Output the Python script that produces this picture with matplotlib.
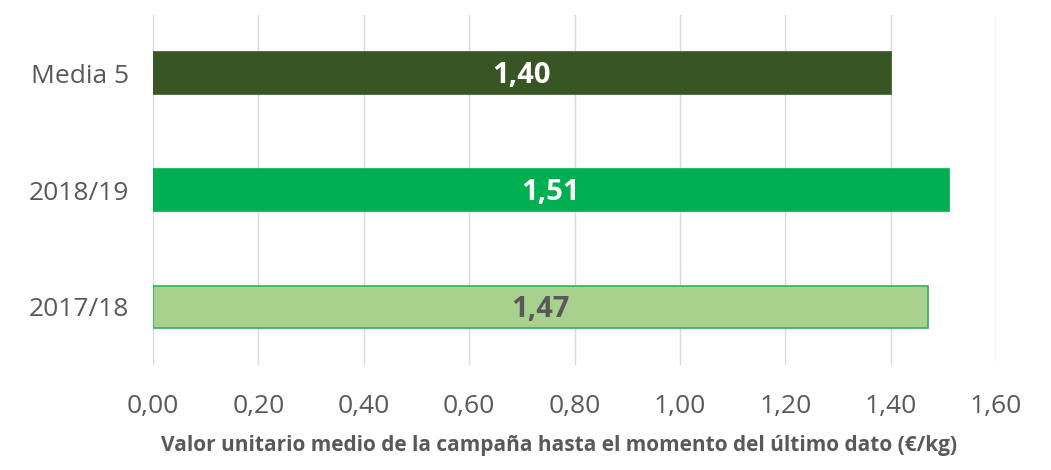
import matplotlib.pyplot as plt
from matplotlib.ticker import FuncFormatter

categories = ["2017/18", "2018/19", "Media 5"]
values = [1.47, 1.51, 1.40]
bar_colors = ["#A9D18E", "#00B050", "#375623"]
edge_colors = ["#2EB35A", "#00B050", "#375623"]
label_colors = ["#595959", "white", "white"]
xticks = [0.0, 0.2, 0.4, 0.6, 0.8, 1.0, 1.2, 1.4, 1.6]
xlabel = "Valor unitario medio de la campaña hasta el momento del último dato (€/kg)"

plt.rcParams["font.family"] = ["Open Sans", "DejaVu Sans"]

fig = plt.figure(figsize=(10.51, 4.70), dpi=100)
ax = fig.add_axes([0.1456, 0.2234, 0.8021, 0.7446])

ypos = list(range(len(categories)))
bars = ax.barh(ypos, values, height=0.36, color=bar_colors,
               edgecolor=edge_colors, linewidth=1.2, zorder=3)

for b, v, c in zip(bars, values, label_colors):
    ax.text(v / 2, b.get_y() + b.get_height() / 2 - 0.02, f"{v:.2f}".replace(".", ","),
            ha="center", va="center", color=c, fontsize=21, fontweight="bold", zorder=4)

ax.set_xlim(0, 1.6)
ax.set_ylim(-0.5, 2.5)
ax.set_xticks(xticks)
ax.xaxis.set_major_formatter(FuncFormatter(lambda x, p: f"{x:.2f}".replace(".", ",")))
ax.set_yticks(ypos)
ax.set_yticklabels(categories)
ax.tick_params(axis="both", length=0, labelsize=19, colors="#595959")
ax.tick_params(axis="x", pad=21)
ax.tick_params(axis="y", pad=17)
ax.grid(axis="x", color="#D9D9D9", linewidth=1, zorder=0)
for s in ax.spines.values():
    s.set_visible(False)

ax.set_xlabel(xlabel, fontsize=15, fontweight="bold", color="#595959", labelpad=13)
ax.xaxis.set_label_coords(0.482, -0.2)
ax.xaxis.label.set_va("top")

fig.savefig("out.png", dpi=100)
